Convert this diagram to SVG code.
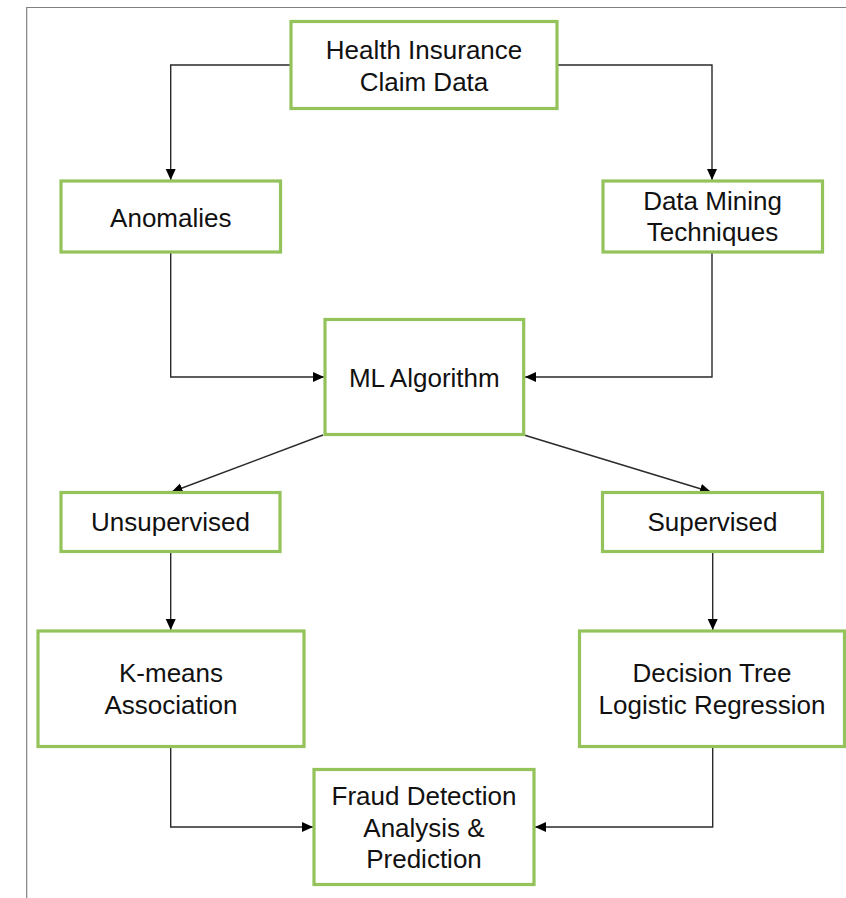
<svg xmlns="http://www.w3.org/2000/svg" width="846" height="898" viewBox="0 0 846 898">
<defs>
<marker id="arr" markerUnits="userSpaceOnUse" markerWidth="12" markerHeight="12" viewBox="0 0 12 12" refX="11" refY="6" orient="auto">
<path d="M0,1 L11,6 L0,11 Z" fill="#000"/>
</marker>
</defs>
<style>
.box{fill:#fff;stroke:#93c35a;stroke-width:3.2}
.t{font-family:"Liberation Sans",Arial,sans-serif;font-size:26px;fill:#111;text-anchor:middle}
.c{fill:none;stroke:#2a2a2a;stroke-width:1.4;marker-end:url(#arr)}
.frame{stroke:#808080;stroke-width:1.2;fill:none}
</style>
<rect x="0" y="0" width="846" height="898" fill="#fff"/>
<path class="frame" d="M26.7,898 V7.5 H846"/>
<g id="connectors">
<path class="c" d="M291,65 H170.7 V180"/>
<path class="c" d="M557,65 H712 V180"/>
<path class="c" d="M170.7,252 V377 H324"/>
<path class="c" d="M712,252 V377 H525"/>
<path class="c" d="M323,435 L171.5,492"/>
<path class="c" d="M524,435 L711,492"/>
<path class="c" d="M170.7,551 V630"/>
<path class="c" d="M712.7,552 V630"/>
<path class="c" d="M170.7,747 V827 H313"/>
<path class="c" d="M712.7,747 V827 H535"/>
</g>
<g id="health">
<rect class="box" x="291" y="21.5" width="266" height="87"/>
<text class="t" x="424" y="59">Health Insurance</text>
<text class="t" x="424" y="91">Claim Data</text>
</g>
<g id="anomalies">
<rect class="box" x="61" y="181" width="219.5" height="71"/>
<text class="t" x="170.8" y="227">Anomalies</text>
</g>
<g id="datamining">
<rect class="box" x="603" y="181" width="219.5" height="71"/>
<text class="t" x="712.5" y="210">Data Mining</text>
<text class="t" x="712.5" y="241">Techniques</text>
</g>
<g id="ml">
<rect class="box" x="325" y="319.5" width="198.7" height="115"/>
<text class="t" x="424.3" y="387">ML Algorithm</text>
</g>
<g id="unsupervised">
<rect class="box" x="61" y="492.5" width="219" height="59"/>
<text class="t" x="170.5" y="531">Unsupervised</text>
</g>
<g id="supervised">
<rect class="box" x="602.5" y="492.5" width="220" height="59"/>
<text class="t" x="712.5" y="531">Supervised</text>
</g>
<g id="kmeans">
<rect class="box" x="38" y="631" width="266" height="115.5"/>
<text class="t" x="171" y="681.7">K-means</text>
<text class="t" x="171" y="714">Association</text>
</g>
<g id="decision">
<rect class="box" x="579.5" y="631" width="265" height="115.5"/>
<text class="t" x="712" y="681.7">Decision Tree</text>
<text class="t" x="712" y="714">Logistic Regression</text>
</g>
<g id="fraud">
<rect class="box" x="314" y="769.5" width="220" height="115"/>
<text class="t" x="424" y="805">Fraud Detection</text>
<text class="t" x="424" y="836.7">Analysis &amp;</text>
<text class="t" x="424" y="868.3">Prediction</text>
</g>
</svg>
